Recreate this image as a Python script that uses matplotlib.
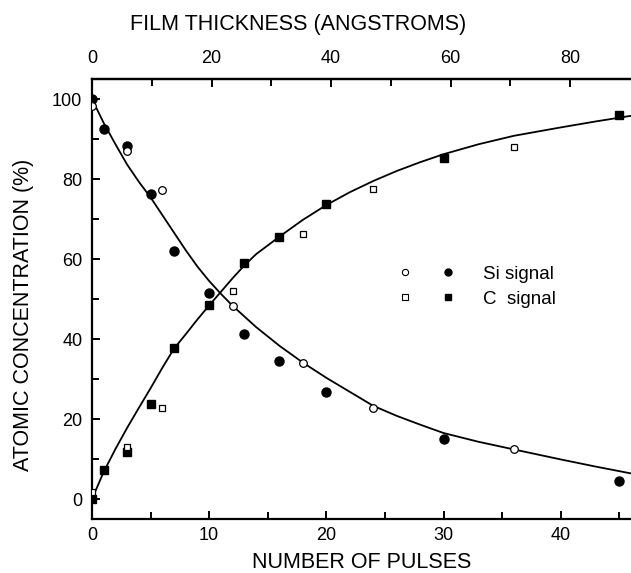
import matplotlib
matplotlib.use("Agg")
import matplotlib.pyplot as plt
from matplotlib.lines import Line2D
from matplotlib.legend_handler import HandlerTuple
from matplotlib.ticker import MultipleLocator, FixedLocator

plt.rcParams['font.family'] = ['Liberation Sans', 'DejaVu Sans']

# measured points (pulses, atomic %)
si_fill_x = [0, 1, 3, 5, 7, 10, 13, 16, 20, 30, 45]
si_fill_y = [100, 92.5, 88.2, 76.2, 62, 51.6, 41.2, 34.5, 26.7, 15.1, 4.6]
si_open_x = [0, 3, 6, 12, 18, 24, 36]
si_open_y = [98.3, 87, 77.2, 48.2, 34.1, 22.8, 12.4]

c_fill_x = [0, 1, 3, 5, 7, 10, 13, 16, 20, 30, 45]
c_fill_y = [0, 7.3, 11.8, 23.8, 37.8, 48.4, 58.9, 65.6, 73.7, 85.3, 96]
c_open_x = [0, 3, 6, 12, 18, 24, 36]
c_open_y = [1.8, 13.1, 22.7, 52.1, 66.2, 77.4, 88.1]

# fitted curves
si_fit_x = [0, 1, 2, 3, 4, 5, 6, 7, 8, 9, 10, 11, 12, 14, 16, 18, 20, 22, 24,
            26, 28, 30, 33, 36, 40, 43, 46]
si_fit_y = [100, 94, 88.7, 83.6, 79.3, 75.4, 71, 66.6, 62.2, 58.1, 54.5, 51.3,
            48.3, 43, 38.3, 34.1, 30.3, 26.8, 23.3, 20.8, 18.6, 16.5, 14.3,
            12.4, 9.9, 8.1, 6.4]
c_fit_x = [0, 1, 2, 3, 4, 5, 6, 7, 8, 9, 10, 11, 12, 13, 14, 16, 18, 20, 22,
           24, 26, 28, 30, 33, 36, 40, 43, 46]
c_fit_y = [0, 6.8, 12.5, 17.8, 22.8, 27.7, 32.8, 37.6, 41.2, 44.9, 48.4, 51.8,
           55.2, 58.4, 61.2, 65.6, 69.8, 73.5, 76.7, 79.5, 82, 84.2, 86.2,
           88.7, 90.8, 92.9, 94.4, 95.8]

ang_per_pulse = 1.96
top_major = [0, 20, 40, 60, 80]
top_minor = [10, 30, 50, 70]

fig = plt.figure(figsize=(6.31, 5.73), dpi=100)
ax = fig.add_axes([0.1458, 0.0942, 0.8542, 0.7679])

ax.plot(si_fit_x, si_fit_y, color='black', lw=1.3)
ax.plot(c_fit_x, c_fit_y, color='black', lw=1.3)

ax.plot(si_fill_x, si_fill_y, 'o', color='black', ms=6.5, zorder=3)
ax.plot(si_open_x, si_open_y, 'o', mfc='white', mec='black', mew=0.9, ms=5.5, zorder=4)
ax.plot(c_fill_x, c_fill_y, 's', color='black', ms=5.5, zorder=3)
ax.plot(c_open_x, c_open_y, 's', mfc='white', mec='black', mew=0.9, ms=5, zorder=4)

ax.set_xlim(0, 46)
ax.set_ylim(-5, 105)
ax.xaxis.set_major_locator(MultipleLocator(10))
ax.xaxis.set_minor_locator(MultipleLocator(5))
ax.yaxis.set_major_locator(MultipleLocator(20))
ax.yaxis.set_minor_locator(MultipleLocator(10))
ax.tick_params(which='both', direction='in', width=1.4, labelsize=13)
ax.tick_params(which='major', length=5.5)
ax.tick_params(which='minor', length=5)
ax.tick_params(axis='x', pad=6)
ax.tick_params(axis='y', pad=7)
ax.spines['right'].set_visible(False)
for s in ['left', 'bottom', 'top']:
    ax.spines[s].set_linewidth(1.6)

ax.set_xlabel('NUMBER OF PULSES', fontsize=15.5)
ax.xaxis.set_label_coords(0.5, -0.075)
ax.set_ylabel('ATOMIC CONCENTRATION (%)', fontsize=15.5)
ax.yaxis.set_label_coords(-0.108, 0.464)

sec = ax.secondary_xaxis('top', functions=(lambda p: p * ang_per_pulse,
                                           lambda t: t / ang_per_pulse))
sec.xaxis.set_major_locator(FixedLocator(top_major))
sec.xaxis.set_minor_locator(FixedLocator(top_minor))
sec.tick_params(which='both', direction='in', width=1.4, labelsize=13, pad=9)
sec.tick_params(which='major', length=5.5)
sec.tick_params(which='minor', length=5)
sec.spines['top'].set_linewidth(1.6)
fig.text(0.473, 0.958, 'FILM THICKNESS (ANGSTROMS)', fontsize=15.5,
         ha='center', va='center')

h_si_o = Line2D([], [], ls='none', marker='o', mfc='white', mec='black', mew=0.8, ms=4.5)
h_si_f = Line2D([], [], ls='none', marker='o', color='black', ms=5)
h_c_o = Line2D([], [], ls='none', marker='s', mfc='white', mec='black', mew=0.8, ms=4)
h_c_f = Line2D([], [], ls='none', marker='s', color='black', ms=4.5)
ax.legend([(h_si_o, h_si_f), (h_c_o, h_c_f)], ['Si signal', 'C  signal'],
          handler_map={tuple: HandlerTuple(ndivide=None, pad=1.6)},
          frameon=False, fontsize=13.5, handlelength=3.0, handletextpad=1.5,
          labelspacing=0.4, loc='center left', bbox_to_anchor=(0.537, 0.528))

fig.savefig('out.png', dpi=100)
